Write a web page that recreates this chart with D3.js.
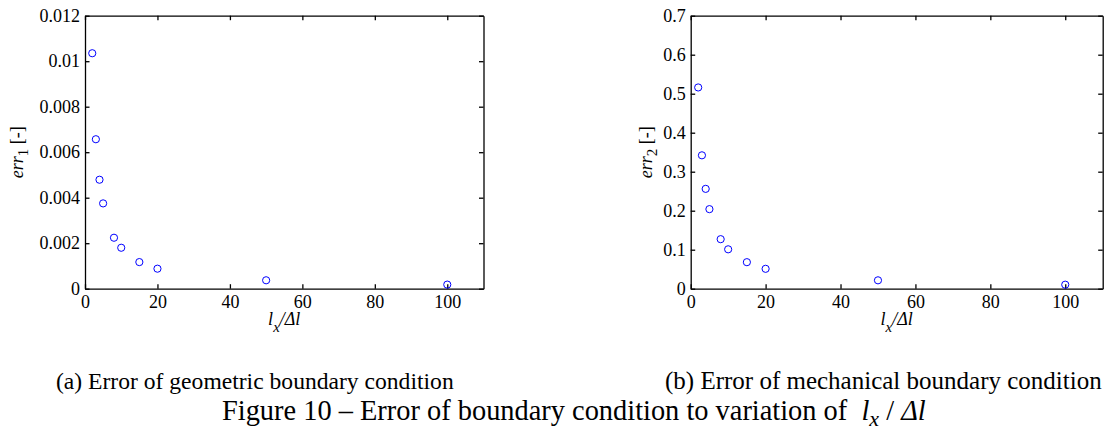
<!DOCTYPE html>
<html>
<head>
<meta charset="utf-8">
<script src="https://cdn.jsdelivr.net/npm/d3@7"></script>
<style>
  body { margin: 0; background: #fff; }
  svg { display: block; }
  .axis path, .axis line { stroke: #000; stroke-width: 1.3; }
</style>
</head>
<body>
<div id="chart"></div>
<script>
// data
var ratio = [2, 3, 4, 5, 8, 10, 15, 20, 50, 100];   // l_x / Δl
var err1 = [0.01035, 0.00657, 0.00479, 0.00375, 0.00224, 0.0018, 0.00117, 0.00088, 0.00037, 0.00018];
var err2 = [0.516, 0.342, 0.256, 0.204, 0.127, 0.101, 0.068, 0.051, 0.0215, 0.0103];

var xTicks = [0, 20, 40, 60, 80, 100];
var y1Ticks = [0, 0.002, 0.004, 0.006, 0.008, 0.01, 0.012];
var y2Ticks = [0, 0.1, 0.2, 0.3, 0.4, 0.5, 0.6, 0.7];

var W = 1115, H = 435;
var tickLen = 4.5;
var serif = "'Liberation Serif', 'Times New Roman', serif";

var svg = d3.select("#chart")
  .append("svg")
    .attr("width", W)
    .attr("height", H)
    .style("font-family", serif);

svg.append("rect").attr("width", W).attr("height", H).attr("fill", "#fff");

function fmt(v) { return String(+v.toFixed(4)); }

// the axis sets its own font attrs, override them
function serifTicks(g) {
  g.attr("font-family", null).attr("font-size", null);
  g.selectAll("text")
    .style("font-family", serif)
    .style("font-size", "18px")
    .style("fill", "#000");
}

// draws one panel
function panel(opts) {
  var x = d3.scaleLinear().domain([0, 110]).range([opts.left, opts.right]);
  var y = d3.scaleLinear().domain([0, opts.yMax]).range([opts.bottom, opts.top]);

  // bottom axis with labels
  svg.append("g")
    .attr("class", "axis")
    .attr("transform", "translate(0," + opts.bottom + ")")
    .call(d3.axisBottom(x).tickValues(xTicks).tickSizeInner(-tickLen).tickSizeOuter(0).tickPadding(7).tickFormat(fmt))
    .call(serifTicks);

  // top axis, ticks only
  svg.append("g")
    .attr("class", "axis")
    .attr("transform", "translate(0," + opts.top + ")")
    .call(d3.axisTop(x).tickValues(xTicks).tickSizeInner(-tickLen).tickSizeOuter(0).tickFormat(""));

  // left axis with labels
  svg.append("g")
    .attr("class", "axis")
    .attr("transform", "translate(" + opts.left + ",0)")
    .call(d3.axisLeft(y).tickValues(opts.yTicks).tickSizeInner(-tickLen).tickSizeOuter(0).tickPadding(5).tickFormat(fmt))
    .call(serifTicks);

  // right axis, ticks only
  svg.append("g")
    .attr("class", "axis")
    .attr("transform", "translate(" + opts.right + ",0)")
    .call(d3.axisRight(y).tickValues(opts.yTicks).tickSizeInner(-tickLen).tickSizeOuter(0).tickFormat(""));

  // markers
  svg.append("g")
    .selectAll("circle")
    .data(ratio.map(function(r, i) { return {x: r, y: opts.values[i]}; }))
    .enter()
    .append("circle")
      .attr("cx", function(d) { return x(d.x); })
      .attr("cy", function(d) { return y(d.y); })
      .attr("r", 3.6)
      .style("fill", "none")
      .style("stroke", "#0000ff")
      .style("stroke-width", 1);

  // x label  l_x/Δl
  var xl = svg.append("text")
    .attr("x", (opts.left + opts.right) / 2)
    .attr("y", 325)
    .attr("text-anchor", "middle")
    .style("font-size", "18px")
    .style("font-style", "italic");
  xl.append("tspan").text("l");
  xl.append("tspan").attr("dy", 7).style("font-size", "15px").text("x");
  xl.append("tspan").attr("dy", -7).text("/Δl");

  // y label  err_n [-]
  var yl = svg.append("text")
    .attr("transform", "translate(" + opts.yLabelX + "," + ((opts.top + opts.bottom) / 2) + ") rotate(-90)")
    .attr("text-anchor", "middle")
    .style("font-size", "18px");
  yl.append("tspan").style("font-style", "italic").text("err");
  yl.append("tspan").attr("dy", 5).style("font-size", "15px").text(opts.sub);
  yl.append("tspan").attr("dy", -5).text(" [-]");
}

panel({left: 85, right: 483.5, top: 15.7, bottom: 288.7, yMax: 0.012, yTicks: y1Ticks, values: err1, sub: "1", yLabelX: 23});
panel({left: 690.7, right: 1102.7, top: 15.7, bottom: 288.7, yMax: 0.7, yTicks: y2Ticks, values: err2, sub: "2", yLabelX: 652});

// captions
svg.append("text")
  .attr("x", 56).attr("y", 389)
  .style("font-size", "23.6px")
  .text("(a) Error of geometric boundary condition");

svg.append("text")
  .attr("x", 665).attr("y", 389)
  .style("font-size", "25px")
  .text("(b) Error of mechanical boundary condition");

var cap = svg.append("text")
  .attr("x", 222).attr("y", 420)
  .style("font-size", "28.4px");
cap.append("tspan").text("Figure 10 \u2013 Error of boundary condition to variation of \u00a0");
cap.append("tspan").style("font-style", "italic").text("l");
cap.append("tspan").attr("dy", 6).style("font-style", "italic").style("font-size", "22px").text("x");
cap.append("tspan").attr("dy", -6).text(" / ");
cap.append("tspan").style("font-style", "italic").text("Δl");
</script>
</body>
</html>
